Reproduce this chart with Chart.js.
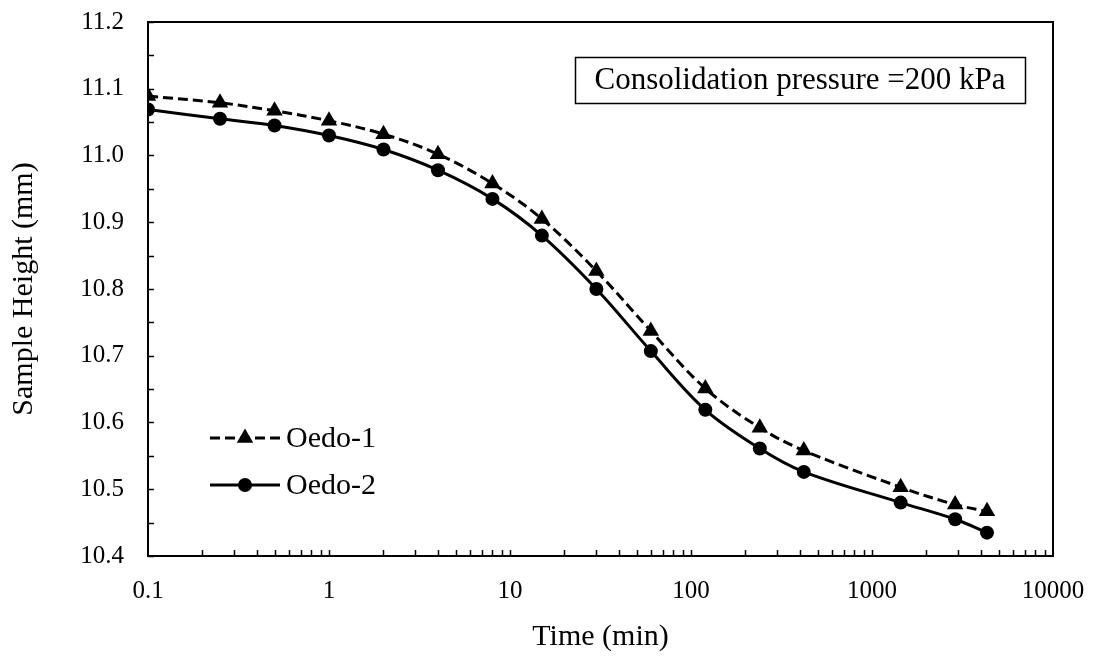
<!DOCTYPE html>
<html>
<head>
<meta charset="utf-8">
<script src="https://cdn.jsdelivr.net/npm/chart.js@4.4.0/dist/chart.umd.min.js"></script>
<style>
  html, body { margin: 0; padding: 0; background: #fff; }
  #wrap { width: 1095px; height: 659px; }
</style>
</head>
<body>
<div id="wrap"><canvas id="chart" width="1095" height="659"></canvas></div>
<script>
// ─── Data ───
const times = [0.1, 0.25, 0.5, 1, 2, 4, 8, 15, 30, 60, 120, 240, 420, 1440, 2880, 4320];
const oedo1 = [11.089, 11.079, 11.067, 11.052, 11.032, 11.002, 10.958, 10.905, 10.827, 10.737, 10.651, 10.592, 10.558, 10.503, 10.477, 10.467];
const oedo2 = [11.069, 11.055, 11.045, 11.030, 11.009, 10.978, 10.935, 10.880, 10.800, 10.707, 10.619, 10.561, 10.526, 10.480, 10.455, 10.435];
const seriesNames = ['Oedo-1', 'Oedo-2'];
const xTicks = [0.1, 1, 10, 100, 1000, 10000];
const yTicks = [10.4, 10.5, 10.6, 10.7, 10.8, 10.9, 11.0, 11.1, 11.2];
const noteText = 'Consolidation pressure =200 kPa';

const SERIF = "'Liberation Serif', 'Times New Roman', serif";
Chart.defaults.font.family = SERIF;
Chart.defaults.color = '#000';

const toPoints = ys => times.map((t, i) => ({ x: t, y: ys[i] }));

// Inward tick marks + top/right frame, like the spreadsheet original
const framePlugin = {
  id: 'frame',
  afterDraw(chart) {
    const { ctx, chartArea: a, scales: { x, y } } = chart;
    ctx.save();
    ctx.strokeStyle = '#000';
    ctx.lineWidth = 2;
    ctx.beginPath();
    ctx.moveTo(a.left, a.top); ctx.lineTo(a.right, a.top); ctx.lineTo(a.right, a.bottom);
    ctx.stroke();

    ctx.lineWidth = 1.5;
    ctx.beginPath();
    for (let v = 10.4; v <= 11.2001; v += 0.05) {
      const py = Math.round(y.getPixelForValue(v)) + 0.5;
      ctx.moveTo(a.left, py); ctx.lineTo(a.left + 6, py);
    }
    for (let d = 0.1; d < 10000; d *= 10) {
      for (let k = 1; k <= 9; k++) {
        const px = Math.round(x.getPixelForValue(d * k)) + 0.5;
        if (px <= a.left + 1) continue;
        ctx.moveTo(px, a.bottom); ctx.lineTo(px, a.bottom - 6);
      }
    }
    ctx.stroke();
    ctx.restore();
  }
};

// Legend inside the plot (line sample with marker) and the pressure note box
const notesPlugin = {
  id: 'notes',
  afterDraw(chart) {
    const { ctx, chartArea: a } = chart;
    ctx.save();

    // legend
    chart.data.datasets.forEach((ds, i) => {
      const yy = a.top + 416 + i * 47;
      const x0 = a.left + 62, x1 = a.left + 132;
      ctx.strokeStyle = '#000';
      ctx.lineWidth = ds.borderWidth;
      ctx.setLineDash(ds.borderDash || []);
      ctx.beginPath(); ctx.moveTo(x0, yy); ctx.lineTo(x1, yy); ctx.stroke();
      ctx.setLineDash([]);
      Chart.helpers.drawPoint(ctx, {
        pointStyle: ds.pointStyle, radius: ds.pointRadius, borderWidth: 0, rotation: 0
      }, (x0 + x1) / 2, yy);
      ctx.fillStyle = '#000';
      ctx.font = `30px ${SERIF}`;
      ctx.textBaseline = 'middle';
      ctx.textAlign = 'left';
      ctx.fillText(ds.label, x1 + 6, yy + 1);
    });

    // note box
    ctx.font = `31px ${SERIF}`;
    const bx = a.right - 478, by = a.top + 35, bw = 450, bh = 46;
    ctx.lineWidth = 1.5;
    ctx.strokeRect(bx + 0.5, by + 0.5, bw, bh);
    ctx.textAlign = 'center';
    ctx.textBaseline = 'middle';
    ctx.fillText(noteText, bx + bw / 2, by + bh / 2 + 1);
    ctx.restore();
  }
};

new Chart(document.getElementById('chart'), {
  type: 'line',
  data: {
    datasets: [
      {
        label: seriesNames[0],
        data: toPoints(oedo1),
        borderColor: '#000',
        backgroundColor: '#000',
        borderWidth: 3,
        borderDash: [10, 5],
        pointStyle: 'triangle',
        pointRadius: 9.5,
        pointBorderWidth: 0,
        pointBackgroundColor: '#000',
        tension: 0.35,
        fill: false,
      },
      {
        label: seriesNames[1],
        data: toPoints(oedo2),
        borderColor: '#000',
        backgroundColor: '#000',
        borderWidth: 3,
        pointStyle: 'circle',
        pointRadius: 7,
        pointBorderWidth: 0,
        pointBackgroundColor: '#000',
        tension: 0.35,
        fill: false,
      },
    ],
  },
  options: {
    responsive: false,
    animation: false,
    layout: { autoPadding: false, padding: { top: 22, right: 42, left: 0, bottom: 0 } },
    plugins: {
      legend: { display: false },
      tooltip: { enabled: false },
    },
    scales: {
      x: {
        type: 'logarithmic',
        min: 0.1,
        max: 10000,
        afterBuildTicks: s => { s.ticks = xTicks.map(v => ({ value: v })); },
        afterFit: s => { s.height = 103; s.paddingLeft = 0; s.paddingRight = 0; },
        grid: { display: false, drawTicks: false },
        border: { display: true, color: '#000', width: 2 },
        ticks: {
          font: { size: 25 },
          padding: 20,
          maxRotation: 0,
          autoSkip: false,
          callback: v => (v < 1 ? v.toFixed(1) : String(v)),
        },
        title: {
          display: true,
          text: 'Time (min)',
          font: { size: 30 },
          padding: { top: 0, bottom: 4 },
        },
      },
      y: {
        min: 10.4,
        max: 11.2,
        afterBuildTicks: s => { s.ticks = yTicks.map(v => ({ value: v })); },
        afterFit: s => { s.width = 148; s.paddingTop = 0; s.paddingBottom = 0; },
        grid: { display: false, drawTicks: false },
        border: { display: true, color: '#000', width: 2 },
        ticks: {
          font: { size: 25 },
          padding: 24,
          callback: v => v.toFixed(1),
        },
        title: {
          display: true,
          text: 'Sample Height (mm)',
          font: { size: 30 },
          padding: { top: 6, bottom: 0 },
        },
      },
    },
  },
  plugins: [framePlugin, notesPlugin],
});
</script>
</body>
</html>
